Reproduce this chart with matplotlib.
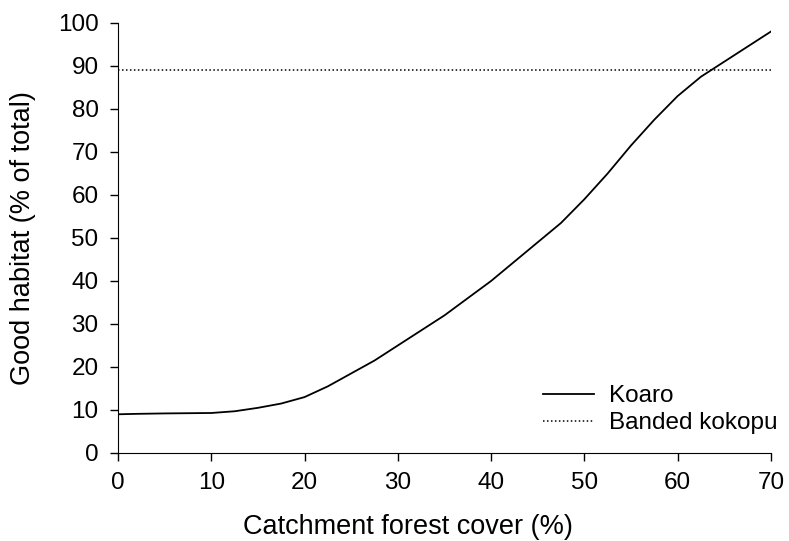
import matplotlib
matplotlib.use("Agg")
import matplotlib.pyplot as plt

plt.rcParams['font.family'] = ['Liberation Sans', 'DejaVu Sans']

forest_cover = [0, 2, 5, 10, 12.5, 15, 17.5, 20, 22.5, 25, 27.5, 30, 32.5, 35, 37.5,
                40, 42.5, 45, 47.5, 50, 52.5, 55, 57.5, 60, 62.5, 65, 67.5, 70]
koaro = [9, 9.1, 9.2, 9.3, 9.7, 10.5, 11.5, 13, 15.5, 18.5, 21.5, 25, 28.5, 32, 36,
         40, 44.5, 49, 53.5, 59, 65, 71.5, 77.5, 83, 87.5, 91, 94.5, 98]
kokopu_x = [0, 70]
kokopu = [89, 89]
xticks = [0, 10, 20, 30, 40, 50, 60, 70]
yticks = [0, 10, 20, 30, 40, 50, 60, 70, 80, 90, 100]

fig = plt.figure(figsize=(7.89, 5.41), dpi=100)
ax = fig.add_axes([0.1496, 0.1627, 0.8274, 0.7948])
ax.plot(forest_cover, koaro, color='black', lw=1.3, label='Koaro')
ax.plot(kokopu_x, kokopu, color='black', lw=1.1, linestyle=(0, (1, 1.6)), label='Banded kokopu')

ax.set_xlim(0, 70)
ax.set_ylim(0, 100)
ax.set_xticks(xticks)
ax.set_yticks(yticks)
for s in ['top', 'right']:
    ax.spines[s].set_visible(False)
ax.tick_params(direction='out', length=6, width=1, labelsize=17.5, pad=8)
ax.set_xlabel('Catchment forest cover (%)', fontsize=19.5)
ax.set_ylabel('Good habitat (% of total)', fontsize=19.5)
ax.xaxis.set_label_coords(0.444, -0.142)
ax.yaxis.set_label_coords(-0.126, 0.5)
ax.legend(loc='upper left', frameon=False, fontsize=17.5, handlelength=2.1,
          handletextpad=0.6, labelspacing=0.2, borderpad=0, borderaxespad=0,
          bbox_to_anchor=(0.651, 0.157))
fig.savefig('out.png', dpi=100)
